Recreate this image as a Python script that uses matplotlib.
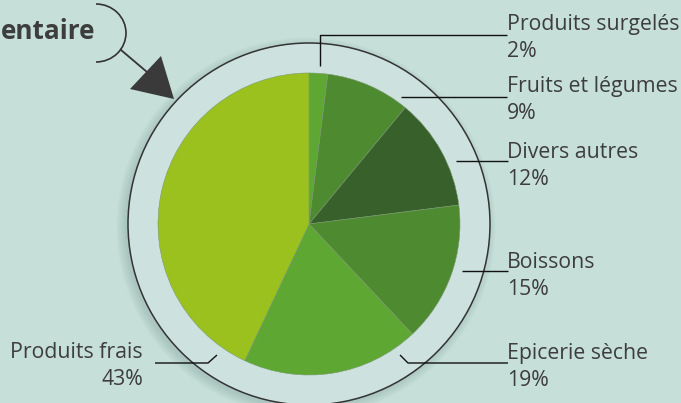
import matplotlib.pyplot as plt
from matplotlib.patches import Circle, Arc, Polygon

plt.rcParams['font.family'] = ['Open Sans', 'DejaVu Sans']

labels = ["Produits surgelés", "Fruits et légumes", "Divers autres",
          "Boissons", "Epicerie sèche", "Produits frais"]
values = [2, 9, 12, 15, 19, 43]
colors = ['#5fa733', '#4e8a30', '#37602a', '#4e8a30', '#5fa733', '#9bc11f']

bg = '#c6dfd9'
ring = '#cde2de'
txt = '#3d3d3d'

fig = plt.figure(figsize=(6.81, 4.03), dpi=100, facecolor=bg)
ax = fig.add_axes([0, 0, 1, 1])
ax.set_facecolor(bg)

cx, cy = 309, 224

# soft shadow of the outer ring (pixel coords, y down)
for i in range(8):
    ax.add_patch(Circle((cx - 3, cy + 3), 181 + i * 1.2, color='#8aa7a1',
                        alpha=0.06, lw=0, zorder=1))
ax.add_patch(Circle((cx, cy), 181, facecolor=ring, edgecolor='#333333',
                    lw=1.1, zorder=2))

# y axis is inverted, so counterclockwise in data = clockwise on screen
wedges, _ = ax.pie(values, colors=colors, startangle=-90, counterclock=True,
                   center=(cx, cy), radius=151,
                   wedgeprops=dict(lw=0.4, edgecolor='#7a9a70'))
for w in wedges:
    w.set_zorder(3)

ax.set_xlim(0, 681)
ax.set_ylim(403, 0)
ax.set_aspect('equal')
ax.axis('off')

# leader lines and labels (layout)
leaders = [
    [(320, 66), (320, 35), (507, 35)],
    [(401, 97), (507, 97)],
    [(456, 161), (508, 161)],
    [(462, 271), (508, 271)],
    [(400, 355), (408, 363), (508, 363)],
    [(217, 355), (208, 363), (155, 363)],
]
text_pos = [(507, 30), (507, 92), (507, 158), (507, 268), (507, 359), (143, 358)]

for pts, (tx, ty), lab, v in zip(leaders, text_pos, labels, values):
    xs, ys = zip(*pts)
    ax.plot(xs, ys, color='#111111', lw=1.0, zorder=5, solid_capstyle='butt')
    ha = 'right' if tx < cx else 'left'
    ax.text(tx, ty, lab, ha=ha, va='baseline', fontsize=15.3, color=txt, zorder=6)
    ax.text(tx, ty + 27, f"{v}%", ha=ha, va='baseline', fontsize=15.3,
            color=txt, zorder=6)

# title fragment with bracket and arrow
ax.text(95, 39, "entaire", ha='right', va='baseline', fontsize=18.8,
        fontweight='bold', color=txt)
ax.add_patch(Arc((96, 33), 60, 58, theta1=-90, theta2=90, color='#333333',
                 lw=1.2, zorder=4))
ax.plot([121, 147], [50, 72], color='#333333', lw=1.3, zorder=4)
ax.add_patch(Polygon([(161, 56), (130, 89), (174, 99)], closed=True,
                     color='#3a3a3a', lw=0, zorder=4))

fig.savefig('out.png', dpi=100, facecolor=bg)
